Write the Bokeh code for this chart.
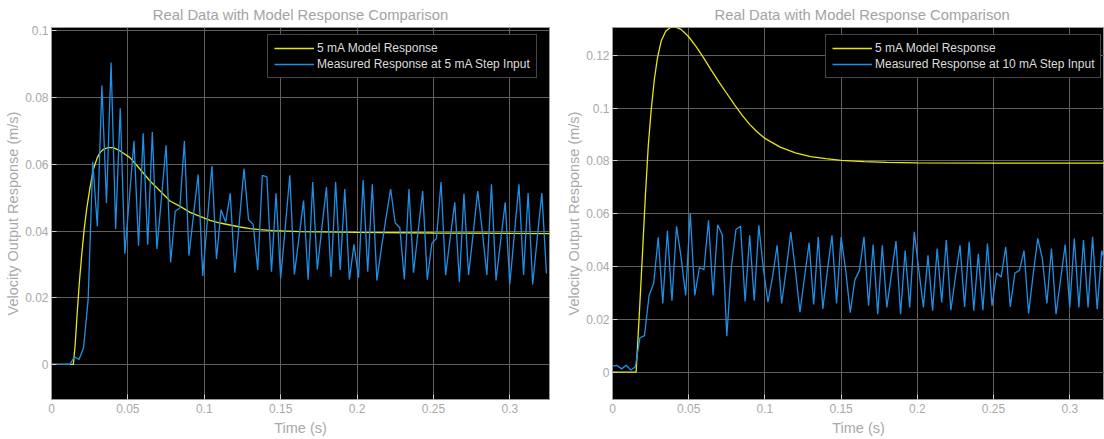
import numpy as np
from bokeh.plotting import figure
from bokeh.layouts import row
from bokeh.models import Legend, LegendItem, FixedTicker, ColumnDataSource
from bokeh.embed import file_html
from bokeh.resources import INLINE

# ---------------- data ----------------
TS = 0.003  # sampling period of the measured responses (s)

measured_5mA = [
    0, 0, 0, 0, 0, 0.0023, 0.0015, 0.005, 0.0195, 0.0607,
    0.0414, 0.0836, 0.0484, 0.0905, 0.0406, 0.0768, 0.0332, 0.050, 0.0670, 0.0356,
    0.0693, 0.0359, 0.0697, 0.0346, 0.050, 0.0657, 0.0306, 0.0459, 0.0469, 0.0670,
    0.0326, 0.045, 0.0569, 0.0265, 0.043, 0.0595, 0.0316, 0.0464, 0.0426, 0.0513,
    0.0275, 0.043, 0.0587, 0.0434, 0.042, 0.0283, 0.0567, 0.0562, 0.0278, 0.0513,
    0.0258, 0.041, 0.0567, 0.027, 0.038, 0.0491, 0.0254, 0.0547, 0.0285, 0.041,
    0.0532, 0.0262, 0.0547, 0.0283, 0.0526, 0.0254, 0.036, 0.026, 0.0553, 0.0278,
    0.054, 0.0252, 0.035, 0.044, 0.0526, 0.0424, 0.041, 0.0255, 0.0526, 0.0275,
    0.040, 0.052, 0.0254, 0.0363, 0.0378, 0.0547, 0.0268, 0.038, 0.0486, 0.0247,
    0.0512, 0.0268, 0.039, 0.052, 0.040, 0.0268, 0.054, 0.0252, 0.037, 0.0486,
    0.024, 0.039, 0.054, 0.0268, 0.0514, 0.024, 0.038, 0.0514, 0.0273,
]

measured_10mA = [
    0.0022, 0.0025, 0.0012, 0.0026, 0.0008, 0.002, 0.013, 0.0138, 0.029, 0.0335,
    0.051, 0.026, 0.0535, 0.027, 0.0552, 0.0435, 0.029, 0.0603, 0.029, 0.0396,
    0.0388, 0.0575, 0.029, 0.0558, 0.052, 0.0136, 0.0398, 0.054, 0.0552, 0.0267,
    0.0518, 0.027, 0.0556, 0.039, 0.0265, 0.036, 0.048, 0.026, 0.039, 0.053,
    0.0385, 0.0227, 0.036, 0.049, 0.0256, 0.0511, 0.0239, 0.0385, 0.0518, 0.026,
    0.0511, 0.0385, 0.0225, 0.0349, 0.0385, 0.0512, 0.0251, 0.0483, 0.0219, 0.048,
    0.0245, 0.037, 0.0496, 0.0219, 0.046, 0.0245, 0.0531, 0.0385, 0.0245, 0.0442,
    0.0232, 0.0468, 0.0264, 0.050, 0.0234, 0.036, 0.048, 0.0247, 0.0493, 0.0232,
    0.0448, 0.0234, 0.0487, 0.0251, 0.0375, 0.036, 0.0474, 0.0247, 0.0375, 0.0385,
    0.046, 0.0222, 0.037, 0.0506, 0.043, 0.026, 0.0468, 0.0219, 0.035, 0.0483,
    0.0245, 0.0506, 0.0245, 0.050, 0.0245, 0.0512, 0.0238, 0.046, 0.040,
]

model_5mA_t = [0, 0.0143, 0.0155, 0.0169, 0.0183, 0.0198, 0.0214, 0.023, 0.025, 0.0274,
               0.03, 0.0318, 0.034, 0.037, 0.0405, 0.0449, 0.0514, 0.058, 0.0645, 0.0711,
               0.0776, 0.0842, 0.0907, 0.0972, 0.1038, 0.1103, 0.1169, 0.1234, 0.13, 0.1365,
               0.1452, 0.1627, 0.2, 0.25, 0.3, 0.326]
model_5mA_v = [0, 0, 0.006, 0.016, 0.025, 0.033, 0.0405, 0.0465, 0.0525, 0.0585,
               0.062, 0.0635, 0.0645, 0.065, 0.065, 0.064, 0.062, 0.0585, 0.055, 0.052,
               0.049, 0.0474, 0.0456, 0.0444, 0.0432, 0.0424, 0.0418, 0.0412, 0.0407, 0.0404,
               0.0401, 0.0398, 0.0396, 0.0394, 0.0393, 0.0392]

model_10mA_t = [0, 0.0155, 0.0175, 0.0195, 0.0215, 0.0235, 0.0255, 0.0275, 0.0295, 0.032,
                0.035, 0.038, 0.041, 0.045, 0.05, 0.055, 0.06, 0.065, 0.07, 0.075,
                0.08, 0.085, 0.09, 0.095, 0.1, 0.11, 0.12, 0.13, 0.14, 0.15,
                0.165, 0.18, 0.2, 0.25, 0.3, 0.326]
model_10mA_v = [0, 0, 0.021, 0.043, 0.066, 0.086, 0.1, 0.111, 0.119, 0.1255,
                0.1292, 0.1305, 0.1307, 0.1298, 0.127, 0.1232, 0.1188, 0.1142, 0.1097, 0.1055,
                0.1013, 0.0973, 0.0938, 0.0909, 0.0885, 0.0852, 0.083, 0.0816, 0.0808, 0.0802,
                0.0797, 0.0794, 0.0792, 0.0791, 0.0791, 0.0791]

x_ticks = [0, 0.05, 0.1, 0.15, 0.2, 0.25, 0.3]
x_tick_labels = ["0", "0.05", "0.1", "0.15", "0.2", "0.25", "0.3"]
y_ticks_left = [0, 0.02, 0.04, 0.06, 0.08, 0.1]
y_tick_labels_left = ["0", "0.02", "0.04", "0.06", "0.08", "0.1"]
y_ticks_right = [0, 0.02, 0.04, 0.06, 0.08, 0.1, 0.12]
y_tick_labels_right = ["0", "0.02", "0.04", "0.06", "0.08", "0.1", "0.12"]

title_text = "Real Data with Model Response Comparison"
x_label = "Time (s)"
y_label = "Velocity Output Response (m/s)"
legend_left = ["5 mA Model Response", "Measured Response at 5 mA Step Input"]
legend_right = ["5 mA Model Response", "Measured Response at 10 mA Step Input"]

# ---------------- style ----------------
FONT = "Liberation Sans"
YELLOW = "#e6e612"
BLUE = "#1f8fe6"
TXT = "#a9a9a9"


def make_plot(width, mb_left, mb_right, x_end, y_range, yticks, ylabels,
              meas, mt, mv, labels, legend_loc, title_align, title_offset):
    p = figure(width=width, height=439, x_range=(0, x_end), y_range=y_range,
               output_backend="svg", toolbar_location=None,
               min_border_left=mb_left, min_border_right=mb_right,
               min_border_top=27, min_border_bottom=40, title=title_text)
    p.background_fill_color = "black"
    p.border_fill_color = "white"
    p.outline_line_color = "#9a9a9a"

    p.title.text_font = FONT
    p.title.text_font_size = "14.8px"
    p.title.text_font_style = "normal"
    p.title.text_color = "#a3a3a3"
    p.title.align = title_align
    p.title.offset = title_offset
    p.title.standoff = 9

    p.xaxis.ticker = FixedTicker(ticks=x_ticks)
    p.xaxis.major_label_overrides = dict(zip(x_ticks, x_tick_labels))
    p.yaxis.ticker = FixedTicker(ticks=yticks)
    p.yaxis.major_label_overrides = dict(zip(yticks, ylabels))
    p.xaxis.axis_label = x_label
    p.yaxis.axis_label = y_label

    for ax in (p.xaxis[0], p.yaxis[0]):
        ax.axis_line_color = "#9a9a9a"
        ax.major_tick_line_color = "#d0d0d0"
        ax.major_tick_in = 5
        ax.major_tick_out = 0
        ax.minor_tick_line_color = None
        ax.major_label_text_color = TXT
        ax.major_label_text_font = FONT
        ax.major_label_text_font_size = "12px"
        ax.axis_label_text_color = TXT
        ax.axis_label_text_font = FONT
        ax.axis_label_text_font_size = "14.5px"
        ax.axis_label_text_font_style = "normal"
    p.xaxis.major_label_standoff = 4
    p.xaxis.axis_label_standoff = 4
    p.yaxis.major_label_standoff = 3
    p.yaxis.axis_label_standoff = 1

    p.grid.grid_line_color = "#5f5f5f"
    p.grid.grid_line_width = 1

    ms = ColumnDataSource(dict(t=np.arange(len(meas)) * TS, v=meas))
    md = ColumnDataSource(dict(t=mt, v=mv))
    r1 = p.line("t", "v", source=md, line_color=YELLOW, line_width=1.3)
    r2 = p.line("t", "v", source=ms, line_color=BLUE, line_width=1.3)

    legend = Legend(items=[LegendItem(label=labels[0], renderers=[r1]),
                           LegendItem(label=labels[1], renderers=[r2])],
                    location=legend_loc)
    legend.background_fill_color = "black"
    legend.background_fill_alpha = 1
    legend.border_line_color = "#8a8a8a"
    legend.border_line_width = 1
    legend.label_text_color = "#dcdcdc"
    legend.label_text_font = FONT
    legend.label_text_font_size = "12px"
    legend.padding = 6
    legend.spacing = 2
    legend.margin = 0
    legend.label_height = 14
    legend.glyph_height = 14
    legend.glyph_width = 40
    legend.label_standoff = 3
    p.add_layout(legend)
    return p


p1 = make_plot(560, 51, 11, 0.326, (-0.0105, 0.101), y_ticks_left, y_tick_labels_left,
               measured_5mA, model_5mA_t, model_5mA_v, legend_left, (216, 321),
               "center", 0)
p2 = make_plot(544, 52, 0, 0.3228, (-0.0104, 0.1305), y_ticks_right, y_tick_labels_right,
               measured_10mA, model_10mA_t, model_10mA_v, legend_right, (213, 321),
               "left", 102)

layout = row(p1, p2)
open("out.html", "w").write(file_html(layout, INLINE))
